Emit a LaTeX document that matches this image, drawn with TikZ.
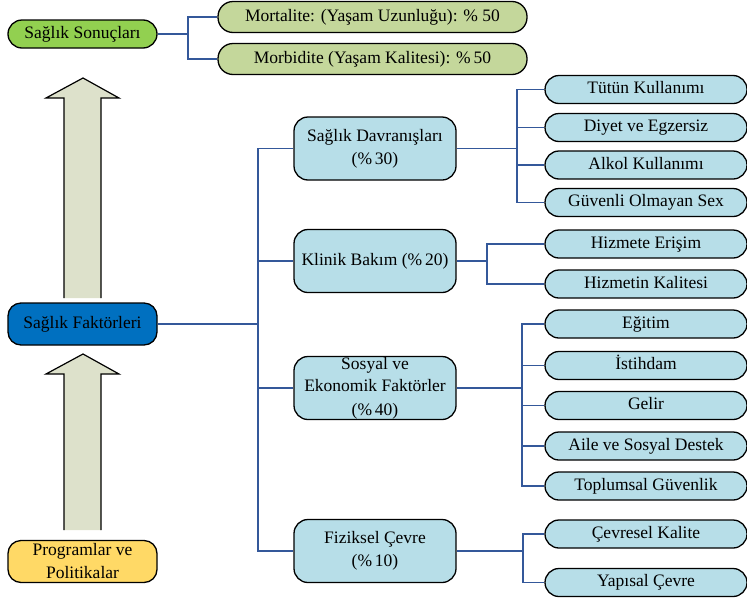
\documentclass[tikz,border=0pt]{standalone}
\usepackage{fontspec}
\setmainfont{Liberation Serif}
\definecolor{cgreen}{HTML}{92D050}
\definecolor{colive}{HTML}{C4D79B}
\definecolor{cblue}{HTML}{0070C0}
\definecolor{cyellow}{HTML}{FFD966}
\definecolor{clblue}{HTML}{B7DEE8}
\definecolor{carrow}{HTML}{DDE1CB}
\definecolor{cline}{HTML}{34589A}
\tikzset{
  box/.style={draw=black, line width=1.3pt, align=center, inner sep=0pt,
    font=\fontsize{17.5}{23}\selectfont},
  oneline/.style={text height=12pt, text depth=4pt},
  mainbox/.style={box, rounded corners=13pt, minimum width=149pt, minimum height=42pt},
  topbox/.style={box, oneline, fill=cgreen, rounded corners=14pt, minimum width=149pt, minimum height=28pt},
  outbox/.style={box, oneline, fill=colive, rounded corners=15pt, minimum width=309pt, minimum height=31pt},
  midbox/.style={box, fill=clblue, rounded corners=14pt, minimum width=162pt, minimum height=63pt},
  leaf/.style={box, oneline, fill=clblue, rounded corners=14pt, minimum width=202pt, minimum height=28pt},
  conn/.style={draw=cline, line width=1.2pt},
  bigarrow/.style={fill=carrow},
  arrowedge/.style={draw=black, line width=1.2pt, line join=miter}
}
\begin{document}
\begin{tikzpicture}[x=1pt,y=-1pt]
\useasboundingbox (0,0) rectangle (747,600);
% left column
\node[topbox] (so) at (82.5,34) {Sağlık Sonuçları};
\node[mainbox, oneline, fill=cblue] (sf) at (82.5,324) {Sağlık Faktörleri};
\node[mainbox, fill=cyellow] (pp) at (82.5,561.5) {Programlar ve\\Politikalar};
% outcome boxes
\node[outbox] (mo) at (372.5,17) {Mortalite: (Yaşam Uzunluğu): \%~50};
\node[outbox] (mb) at (372.5,59) {Morbidite (Yaşam Kalitesi): \%\,50};
% big arrows
\fill[bigarrow] (64,298) -- (64,98) -- (46,98) -- (83,78) -- (119,98) -- (101,98) -- (101,298) -- cycle;
\draw[arrowedge] (64,298) -- (64,98) -- (46,98) -- (83,78) -- (119,98) -- (101,98) -- (101,298);
\fill[bigarrow] (64,530) -- (64,374) -- (46,374) -- (83,354) -- (119,374) -- (101,374) -- (101,530) -- cycle;
\draw[arrowedge] (64,530) -- (64,374) -- (46,374) -- (83,354) -- (119,374) -- (101,374) -- (101,530);
% middle boxes
\node[midbox] (sd) at (375,148.5) {Sağlık Davranışları\\(\%\,30)};
\node[midbox, oneline] (kb) at (375,261) {Klinik Bakım (\%\,20)};
\node[midbox, font=\fontsize{17.5}{24}\selectfont] (se) at (375,388) {\raisebox{-2pt}{Sosyal ve}\\Ekonomik Faktörler\\(\%\,40)};
\node[midbox] (fc) at (375,551) {Fiziksel Çevre\\(\%\,10)};
% leaves
\node[leaf] (l1) at (646,89.5) {Tütün Kullanımı};
\node[leaf] (l2) at (646,127.5) {Diyet ve Egzersiz};
\node[leaf] (l3) at (646,165) {Alkol Kullanımı};
\node[leaf] (l4) at (646,202.5) {Güvenli Olmayan Sex};
\node[leaf] (l5) at (646,244) {Hizmete Erişim};
\node[leaf] (l6) at (646,284) {Hizmetin Kalitesi};
\node[leaf] (l7) at (646,324) {Eğitim};
\node[leaf] (l8) at (646,365.5) {İstihdam};
\node[leaf] (l9) at (646,405.5) {Gelir};
\node[leaf] (l10) at (646,446) {Aile ve Sosyal Destek};
\node[leaf] (l11) at (646,486) {Toplumsal Güvenlik};
\node[leaf] (l12) at (646,534) {Çevresel Kalite};
\node[leaf] (l13) at (646,582.5) {Yapısal Çevre};
% branch coordinates
\coordinate (b0) at (188,34);
\coordinate (bt) at (258,324);
\coordinate (b1) at (517,148.5);
\coordinate (b2) at (487,261);
\coordinate (b3) at (522,375);
\coordinate (b4) at (523,551);
% connectors
\draw[conn] (so.east) -- (b0);
\draw[conn] (mo.west) -| (b0) |- (mb.west);
\draw[conn] (sf.east) -- (bt);
\draw[conn] (sd.west) -| (bt) |- (fc.west);
\draw[conn] (kb.west) -- (kb.west -| bt);
\draw[conn] (se.west) -- (se.west -| bt);
\draw[conn] (sd.east) -- (b1);
\draw[conn] (l1.west) -| (b1) |- (l4.west);
\draw[conn] (l2.west) -- (l2.west -| b1);
\draw[conn] (l3.west) -- (l3.west -| b1);
\draw[conn] (kb.east) -- (b2);
\draw[conn] (l5.west) -| (b2) |- (l6.west);
\draw[conn] (se.east) -- (se.east -| b3);
\draw[conn] (l7.west) -| (b3) |- (l11.west);
\draw[conn] (l8.west) -- (l8.west -| b3);
\draw[conn] (l9.west) -- (l9.west -| b3);
\draw[conn] (l10.west) -- (l10.west -| b3);
\draw[conn] (fc.east) -- (b4);
\draw[conn] (l12.west) -| (b4) |- (l13.west);
\end{tikzpicture}
\end{document}
